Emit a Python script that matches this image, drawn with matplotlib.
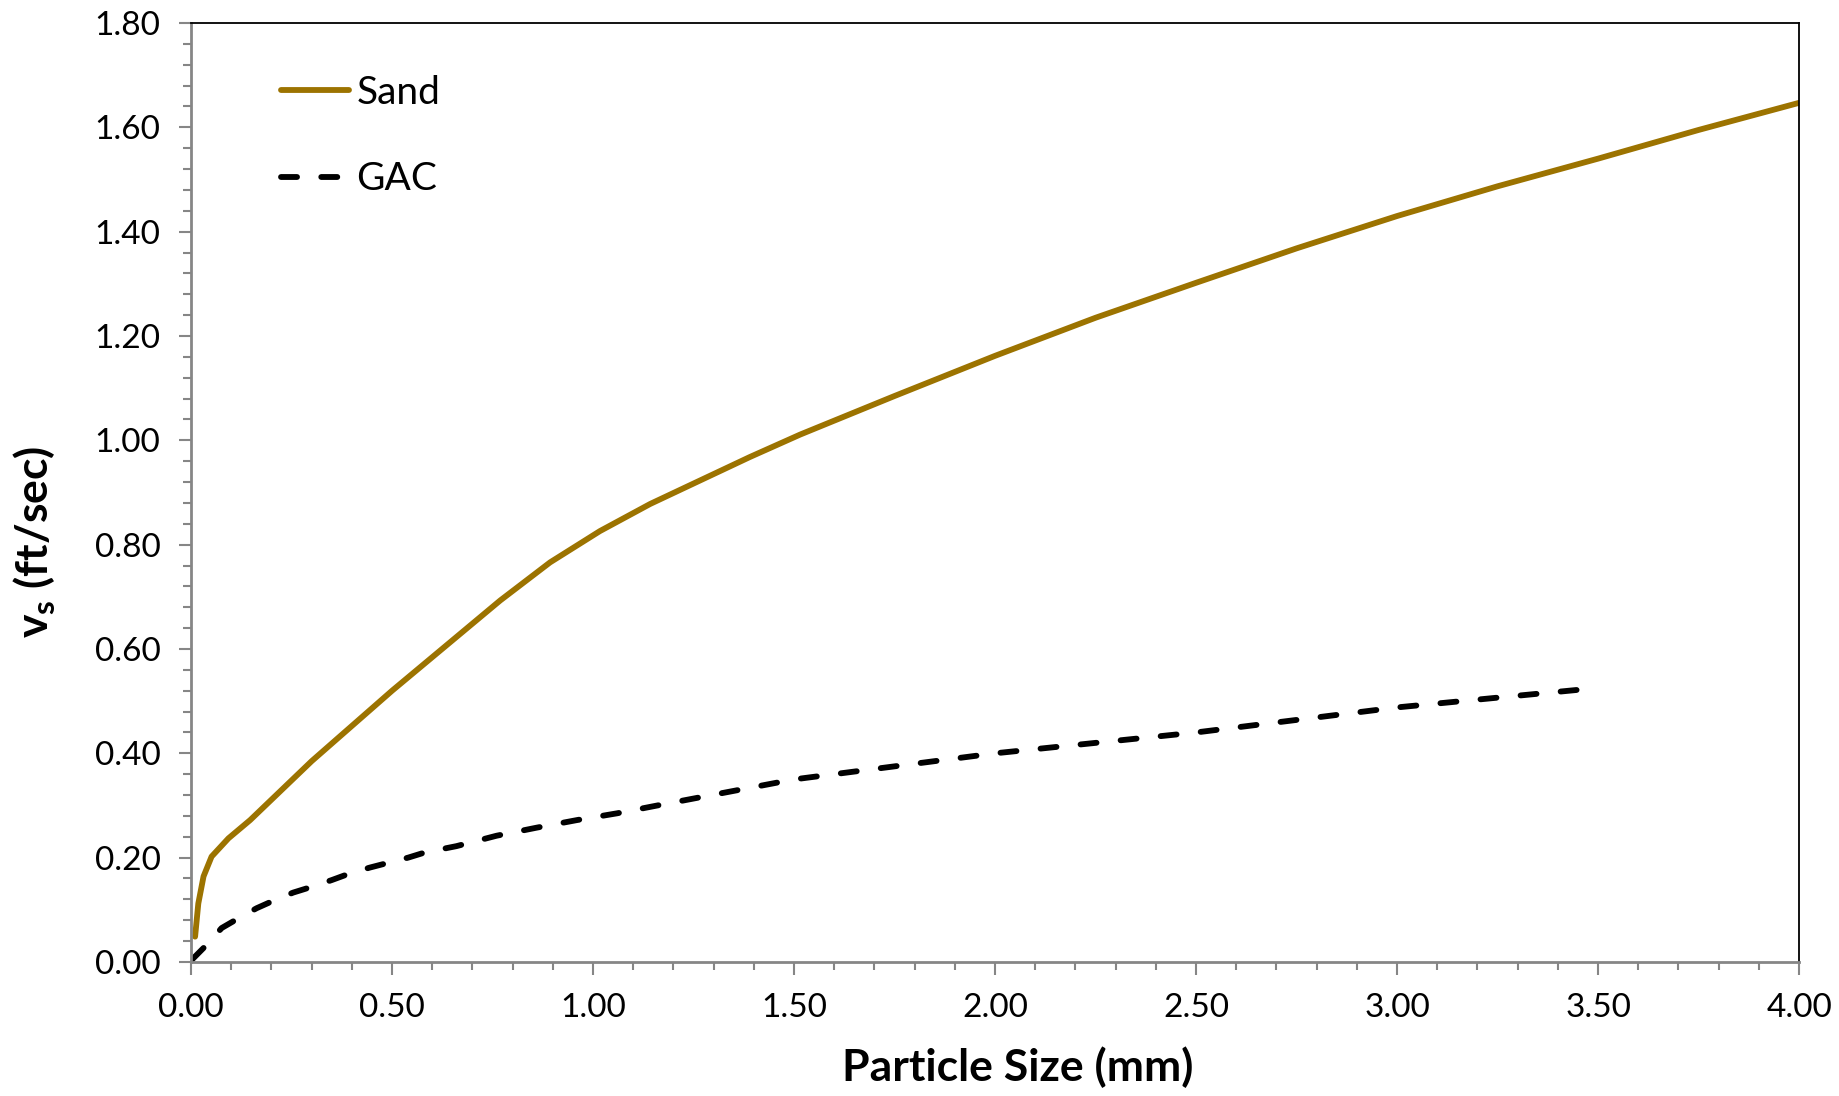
import matplotlib
matplotlib.use("Agg")
import matplotlib.pyplot as plt
from matplotlib.ticker import MultipleLocator, FormatStrFormatter

# Particle size (mm) vs settling velocity (ft/sec)
sand_x = [0.01, 0.018, 0.031, 0.051, 0.093, 0.147, 0.3, 0.5, 0.769, 0.893, 1.017,
          1.142, 1.266, 1.39, 1.515, 1.75, 2.0, 2.25, 2.5, 2.75, 3.0, 3.25, 3.5, 3.75, 4.0]
sand_v = [0.0485, 0.112, 0.164, 0.202, 0.237, 0.272, 0.385, 0.52, 0.693, 0.766, 0.826,
          0.878, 0.923, 0.968, 1.011, 1.085, 1.162, 1.235, 1.302, 1.368, 1.43, 1.487, 1.54,
          1.595, 1.647]

gac_x = [0.003, 0.039, 0.076, 0.114, 0.163, 0.205, 0.254, 0.30, 0.35, 0.396, 0.445,
         0.49, 0.54, 0.582, 0.66, 0.76, 0.86, 0.96, 1.06, 1.18, 1.5, 2.0, 2.5, 3.0, 3.468]
gac_v = [0.005, 0.033, 0.065, 0.082, 0.103, 0.1175, 0.133, 0.144, 0.157, 0.17, 0.181,
         0.19, 0.20, 0.21, 0.222, 0.242, 0.2575, 0.272, 0.285, 0.303, 0.35, 0.40, 0.44,
         0.488, 0.523]

plt.rcParams['font.family'] = ['Lato', 'DejaVu Sans']
plt.rcParams['mathtext.fontset'] = 'custom'
plt.rcParams['mathtext.rm'] = 'Lato:bold'
plt.rcParams['mathtext.bf'] = 'Lato:bold'

fig = plt.figure(figsize=(18.39, 10.96), dpi=100)
ax = fig.add_axes([0.1039, 0.1223, 0.8744, 0.8567])

ax.plot(sand_x, sand_v, color='#9C7300', lw=4.2, label='Sand',
        solid_capstyle='round', solid_joinstyle='round')
ax.plot(gac_x, gac_v, color='black', lw=4.2, ls=(0, (2.75, 4.15)), label='GAC',
        dash_capstyle='round')

ax.set_xlim(0, 4)
ax.set_ylim(0, 1.8)
ax.xaxis.set_major_locator(MultipleLocator(0.5))
ax.xaxis.set_minor_locator(MultipleLocator(0.1))
ax.yaxis.set_major_locator(MultipleLocator(0.2))
ax.yaxis.set_minor_locator(MultipleLocator(0.04))
ax.xaxis.set_major_formatter(FormatStrFormatter('%.2f'))
ax.yaxis.set_major_formatter(FormatStrFormatter('%.2f'))

grey = '#868686'
for s in ['left', 'bottom']:
    ax.spines[s].set_color(grey)
    ax.spines[s].set_linewidth(2)
for s in ['top', 'right']:
    ax.spines[s].set_color('black')
    ax.spines[s].set_linewidth(1.3)

ax.tick_params(which='major', direction='out', length=9, width=1.5, color=grey,
               labelsize=24, pad=13)
ax.tick_params(which='minor', direction='out', length=6, width=1.5, color=grey)
ax.tick_params(axis='x', which='both', top=False)
ax.tick_params(axis='y', which='both', right=False)

ax.set_xlabel('Particle Size (mm)', fontsize=32, fontweight='bold')
ax.set_ylabel(r'v$_\mathregular{s}$ (ft/sec)', fontsize=32, fontweight='bold')
ax.xaxis.set_label_coords(0.514, -0.09)
ax.yaxis.set_label_coords(-0.083, 0.447)

leg = ax.legend(loc='upper left', bbox_to_anchor=(0.034, 0.982), frameon=False,
                fontsize=28, handlelength=1.75, handletextpad=0.2, labelspacing=1.3)

fig.savefig('out.png', dpi=100)
